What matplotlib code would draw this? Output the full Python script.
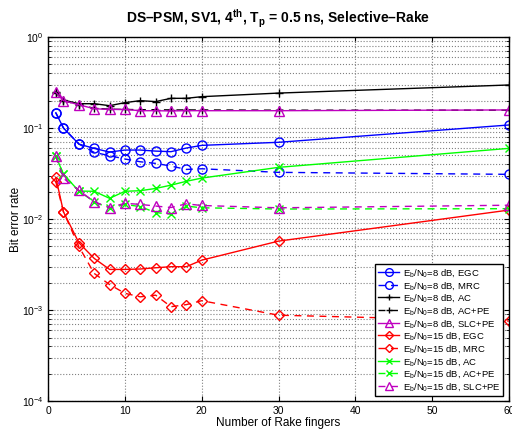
import matplotlib
matplotlib.use('Agg')
import matplotlib.pyplot as plt

plt.rcParams['font.family'] = ['Liberation Sans', 'DejaVu Sans']
plt.rcParams['mathtext.fontset'] = 'custom'
plt.rcParams['mathtext.rm'] = 'Liberation Sans'
plt.rcParams['mathtext.it'] = 'Liberation Sans:italic'
plt.rcParams['mathtext.bf'] = 'Liberation Sans:bold'
plt.rcParams['mathtext.default'] = 'regular'

fingers = [1, 2, 4, 6, 8, 10, 12, 14, 16, 18, 20, 30, 60]

# Eb/N0 = 8 dB
egc_8 = [0.147, 0.100, 0.0667, 0.0597, 0.0545, 0.0573, 0.0573, 0.0558, 0.055, 0.0603, 0.0645, 0.0697, 0.108]
mrc_8 = [0.147, 0.100, 0.0667, 0.054, 0.0497, 0.0457, 0.0426, 0.0409, 0.0382, 0.0351, 0.0357, 0.0326, 0.031]
ac_8 = [0.25, 0.203, 0.185, 0.185, 0.176, 0.19, 0.20, 0.195, 0.212, 0.212, 0.221, 0.242, 0.297]
acpe_8 = [0.245, 0.20, 0.18, 0.165, 0.161, 0.16, 0.159, 0.159, 0.158, 0.158, 0.158, 0.157, 0.157]
slcpe_8 = [0.247, 0.20, 0.18, 0.163, 0.16, 0.16, 0.155, 0.155, 0.154, 0.155, 0.155, 0.155, 0.158]

# Eb/N0 = 15 dB
egc_15 = [0.0287, 0.012, 0.0055, 0.0037, 0.0028, 0.0028, 0.00283, 0.00292, 0.003, 0.003, 0.00354, 0.00573, 0.01256]
mrc_15 = [0.0257, 0.012, 0.005, 0.00253, 0.00191, 0.00153, 0.0014, 0.00146, 0.00109, 0.00115, 0.00127, 0.00088, 0.00076]
ac_15 = [0.0492, 0.031, 0.0203, 0.0202, 0.0169, 0.0202, 0.0205, 0.0217, 0.0236, 0.026, 0.0282, 0.037, 0.0598]
acpe_15 = [0.0492, 0.031, 0.0203, 0.0155, 0.0131, 0.0145, 0.0137, 0.0118, 0.0113, 0.0139, 0.0133, 0.0129, 0.013]
slcpe_15 = [0.049, 0.028, 0.0207, 0.0155, 0.0134, 0.0149, 0.0145, 0.0139, 0.0134, 0.0147, 0.0141, 0.0133, 0.0142]

series = [
    (egc_8, 'b', '-', 'o', 'E$_b$/N$_0$=8 dB, EGC'),
    (mrc_8, 'b', '--', 'o', 'E$_b$/N$_0$=8 dB, MRC'),
    (ac_8, 'k', '-', '+', 'E$_b$/N$_0$=8 dB, AC'),
    (acpe_8, 'k', '--', '+', 'E$_b$/N$_0$=8 dB, AC+PE'),
    (slcpe_8, 'm', '-', '^', 'E$_b$/N$_0$=8 dB, SLC+PE'),
    (egc_15, 'r', '-', 'D', 'E$_b$/N$_0$=15 dB, EGC'),
    (mrc_15, 'r', '--', 'D', 'E$_b$/N$_0$=15 dB, MRC'),
    (ac_15, '#00ff00', '-', 'x', 'E$_b$/N$_0$=15 dB, AC'),
    (acpe_15, '#00ff00', '--', 'x', 'E$_b$/N$_0$=15 dB, AC+PE'),
    (slcpe_15, 'm', '--', '^', 'E$_b$/N$_0$=15 dB, SLC+PE'),
]

fig = plt.figure(figsize=(5.12, 4.30), dpi=100)
ax = fig.add_axes([0.094, 0.067, 0.90, 0.847])

for vals, col, ls, mk, lab in series:
    ms = 5 if mk == 'D' else 6.5
    if mk in ('+', 'x'):
        ms = 5.5
    ax.plot(fingers, vals, color=col, ls=ls, marker=mk, ms=ms, mfc='none',
            mec=col, mew=1.0, lw=1.0, dashes=(5, 4) if ls == '--' else (None, None),
            label=lab)

ax.set_yscale('log')
ax.set_xlim(0, 60)
ax.set_ylim(1e-4, 1e0)
ax.set_xticks([0, 10, 20, 30, 40, 50, 60])
ax.grid(which='major', ls=':', color='0.5', lw=0.8)
ax.yaxis.grid(which='minor', ls=':', color='0.5', lw=0.8)
ax.tick_params(which='both', direction='in', top=True, right=True, labelsize=7.5)
for s in ax.spines.values():
    s.set_linewidth(1.0)

ax.set_xlabel('Number of Rake fingers', fontsize=8.5, labelpad=1)
ax.set_ylabel('Bit error rate', fontsize=8.5, labelpad=0)
ax.set_title(r'DS–PSM, SV1, 4$\mathbf{^{th}}$, T$\mathbf{_p}$ = 0.5 ns, Selective–Rake',
             fontsize=10, fontweight='bold', pad=10)

leg = ax.legend(loc='lower right', bbox_to_anchor=(0.988, 0.015), fontsize=6.8,
                frameon=True, fancybox=False, edgecolor='k', framealpha=1,
                handlelength=2.2, handletextpad=0.4, labelspacing=0.07,
                borderpad=0.3, borderaxespad=0, markerscale=0.85)
leg.get_frame().set_linewidth(1.0)

fig.savefig('out.png', dpi=100)
